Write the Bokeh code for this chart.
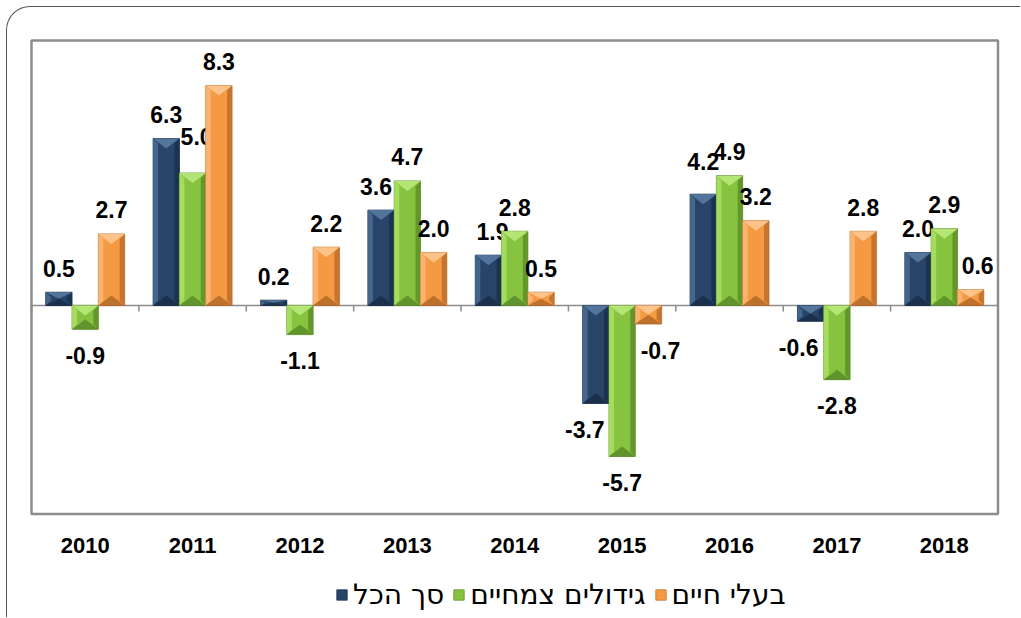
from bokeh.plotting import figure
from bokeh.models import ColumnDataSource, Legend, LegendItem
from bokeh.core.properties import value
from bokeh.embed import file_html
from bokeh.resources import INLINE

# ---------------- data ----------------
years = ["2010", "2011", "2012", "2013", "2014", "2015", "2016", "2017", "2018"]
total = [0.5, 6.3, 0.2, 3.6, 1.9, -3.7, 4.2, -0.6, 2.0]
plants = [-0.9, 5.0, -1.1, 4.7, 2.8, -5.7, 4.9, -2.8, 2.9]
animals = [2.7, 8.3, 2.2, 2.0, 0.5, -0.7, 3.2, 2.8, 0.6]
series_names = ["סך הכל", "גידולים צמחיים", "בעלי חיים"]

# ---------------- style / layout ----------------
W, H = 1014, 611
B_LEFT, B_RIGHT, B_TOP, B_BOTTOM = 22, 21, 31, 4
FRAME_W = W - B_LEFT - B_RIGHT
FRAME_H = H - B_TOP - B_BOTTOM
VIS_W = 966.5            # visible plot-area width in px
VIS_H = 473.5            # visible plot-area height in px
YMIN, YMAX = -7.87, 10.0
PX = (YMAX - YMIN) / VIS_H
UX = 9 / VIS_W
x_start = -2 * UX
x_end = x_start + FRAME_W * UX
y_end = YMAX + 2 * PX
y_start = y_end - FRAME_H * PX

BAR_W = 0.245
OFFSETS = [-BAR_W, 0.0, BAR_W]
FACE = ["#284569", "#86C440", "#F59A43"]
LIGHT = ["#48698F", "#A9DE63", "#FBB676"]
LIGHTEST = ["#5A7CA4", "#BDEB7E", "#FDCB98"]
DARK = ["#1B314E", "#5F9229", "#C0712D"]
DARKEST = ["#132339", "#4A7420", "#96561F"]
LABEL_FONT = "Liberation Sans"

p = figure(width=W, height=H, x_range=(x_start, x_end), y_range=(y_start, y_end),
           output_backend="svg", toolbar_location=None,
           min_border_left=B_LEFT, min_border_right=B_RIGHT,
           min_border_top=B_TOP, min_border_bottom=B_BOTTOM)
p.margin = (6, 0, 0, 6)
p.styles = {"border-top": "1.5px solid #555555", "border-left": "1.5px solid #555555",
            "border-top-left-radius": "24px"}
p.xgrid.visible = False
p.ygrid.visible = False
p.xaxis.visible = False
p.yaxis.visible = False
p.background_fill_color = "white"
p.border_fill_color = None
p.outline_line_color = None

# plot-area frame
p.quad(left=[0], right=[len(years)], bottom=[YMIN], top=[YMAX],
       fill_color=None, line_color="#8c8c8c", line_width=2.5)

# zero line and category boundary ticks
p.segment(x0=[0], x1=[len(years)], y0=[0], y1=[0], line_color="#8c8c8c", line_width=1.5)
bx = list(range(len(years) + 1))
p.segment(x0=bx, x1=bx, y0=[0] * len(bx), y1=[-6 * PX] * len(bx),
          line_color="#8c8c8c", line_width=1.5)

# category labels
p.text(x=[i + 0.5 for i in range(len(years))], y=[YMIN] * len(years), text=years,
       y_offset=31, text_font=value(LABEL_FONT), text_font_style="bold",
       text_font_size="22px", text_align="center", text_baseline="middle",
       text_color="black")

series = [total, plants, animals]
legend_renderers = []
text_renderers = []
for k, vals in enumerate(series):
    xs = [i + 0.5 + OFFSETS[k] for i in range(len(vals))]
    tops = [max(v, 0) for v in vals]
    bots = [min(v, 0) for v in vals]
    r = p.vbar(x=xs, top=tops, bottom=bots, width=BAR_W,
               fill_color=FACE[k], line_color=DARK[k], line_width=0.8)
    legend_renderers.append(r)

    # bevel facets
    L, R, T, Bt = [], [], [], []
    for x, t, b in zip(xs, tops, bots):
        x0, x1 = x - BAR_W / 2, x + BAR_W / 2
        bxw = 5 * UX
        byh = min(5 * PX, (t - b) / 2)
        tri = min(10 * PX, (t - b) / 2)
        L.append(([x0, x0 + bxw, x0 + bxw, x0], [t, t - byh, b + byh, b]))
        R.append(([x1, x1 - bxw, x1 - bxw, x1], [t, t - byh, b + byh, b]))
        T.append(([x0, x1, x], [t, t, t - tri]))
        Bt.append(([x0, x1, x], [b, b, b + tri]))
    for facets, col, alpha in ((L, LIGHT[k], 0.9), (R, DARK[k], 0.9),
                               (T, LIGHTEST[k], 0.85), (Bt, DARKEST[k], 0.6)):
        p.patches(xs=[f[0] for f in facets], ys=[f[1] for f in facets],
                  fill_color=col, fill_alpha=alpha, line_color=None)

    yoff = [-24 if v >= 0 else 26 for v in vals]
    xoff = [0] * len(vals)
    src = ColumnDataSource(dict(x=xs, y=vals, t=[f"{v:.1f}" for v in vals],
                                xo=xoff, yo=yoff))
    tr = p.text(x="x", y="y", text="t", x_offset="xo", y_offset="yo", source=src,
                text_font=value(LABEL_FONT), text_font_style="bold",
                text_font_size="23px", text_align="center",
                text_baseline="middle", text_color="black")
    text_renderers.append(tr)

def nudge(series_idx, year_idx, dx, dy):
    ds = text_renderers[series_idx].data_source
    d = dict(ds.data)
    xo = list(d["xo"]); yo = list(d["yo"])
    xo[year_idx] += dx; yo[year_idx] += dy
    d["xo"] = xo; d["yo"] = yo
    ds.data = d

nudge(1, 1, 4, -12)   # 2011 plants
nudge(0, 6, 0, -9)    # 2016 total
nudge(2, 5, 12, 0)    # 2015 animals
nudge(2, 8, 7, 0)     # 2018 animals
nudge(0, 3, -5, 0)    # 2013 total
nudge(0, 5, -11, 0)   # 2015 total
nudge(0, 7, -12, 0)   # 2017 total
nudge(0, 4, 4, 0)     # 2014 total

legend = Legend(items=[LegendItem(label=series_names[k], renderers=[legend_renderers[k]])
                       for k in range(3)],
                location=(306, 3), orientation="horizontal",
                label_text_font="DejaVu Sans", label_text_font_size="28px",
                label_text_color="black", glyph_width=13, glyph_height=13,
                label_standoff=5, spacing=8, padding=0, margin=0,
                border_line_color=None, background_fill_alpha=0)
p.add_layout(legend, "center")

open("out.html", "w").write(file_html(p, INLINE))
